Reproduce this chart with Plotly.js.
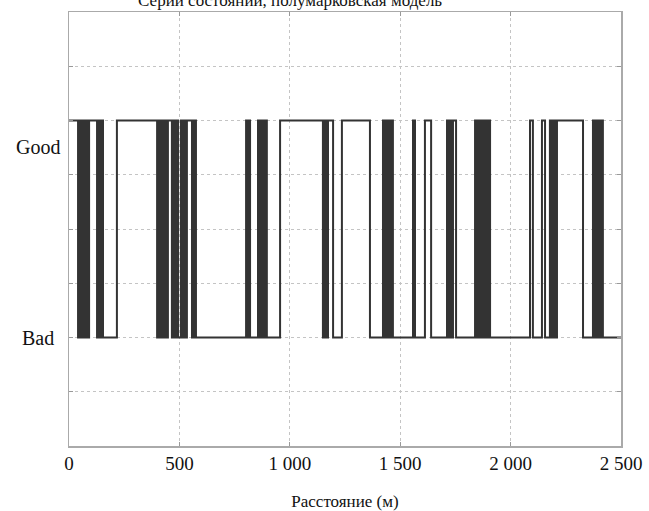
<!DOCTYPE html>
<html>
<head>
<meta charset="utf-8">
<script src="https://cdn.plot.ly/plotly-3.0.1.min.js"></script>
<style>html,body{margin:0;padding:0;background:#fff;}#chart{width:649px;height:511px;}</style>
</head>
<body>
<div id="chart"></div>
<script>
// Distance (m) at which each state segment starts, and the state (1 = Good, 0 = Bad)
var distance = [
  0,
  41, 47, 53, 59, 65, 72, 78, 84, 88, 91,
  127, 132, 137, 142, 147, 151, 154,
  217,
  399, 405, 411, 417, 423, 429, 435, 441, 445, 448,
  466, 473, 480, 487, 494,
  507, 514, 521, 528, 534,
  557, 561, 566, 571, 575,
  802, 805, 808, 811, 814, 820,
  856, 861, 867, 873, 879, 885, 890, 896,
  956,
  1150, 1155, 1160, 1165, 1169, 1173,
  1196,
  1236,
  1363,
  1422, 1427, 1432, 1436, 1440,
  1449, 1454, 1458, 1463, 1467,
  1558, 1567,
  1612, 1640,
  1712, 1717, 1722, 1727, 1732, 1735, 1739,
  1753,
  1839, 1845, 1851, 1857, 1863, 1867, 1871,
  1880, 1885, 1890, 1895, 1899, 1903, 1907,
  2088, 2101,
  2142, 2156,
  2178, 2184, 2190, 2195, 2200, 2205, 2210,
  2328,
  2373, 2379, 2385, 2391, 2397, 2403, 2409, 2418,
  2500
];
var state = [
  1,
  0, 1, 0, 1, 0, 1, 0, 1, 0, 1,
  0, 1, 0, 1, 0, 1, 0,
  1,
  0, 1, 0, 1, 0, 1, 0, 1, 0, 1,
  0, 1, 0, 1, 0,
  1, 0, 1, 0, 1,
  0, 1, 0, 1, 0,
  1, 0, 1, 0, 1, 0,
  1, 0, 1, 0, 1, 0, 1, 0,
  1,
  0, 1, 0, 1, 0, 1,
  0,
  1,
  0,
  1, 0, 1, 0, 1,
  0, 1, 0, 1, 0,
  1, 0,
  1, 0,
  1, 0, 1, 0, 1, 0, 1,
  0,
  1, 0, 1, 0, 1, 0, 1,
  0, 1, 0, 1, 0, 1, 0,
  1, 0,
  1, 0,
  1, 0, 1, 0, 1, 0, 1,
  0,
  1, 0, 1, 0, 1, 0, 1, 0,
  0
];
var xTickVals = [0, 500, 1000, 1500, 2000, 2500];
var xTickText = ['0', '500', '1 000', '1 500', '2 000', '2 500'];
var stateNames = ['Bad', 'Good'];
var chartTitle = 'Серии состояний, полумарковская модель';
var xTitle = 'Расстояние (м)';

var serif = 'Liberation Serif, Times New Roman, serif';

var trace = {
  x: distance,
  y: state,
  type: 'scatter',
  mode: 'lines',
  line: {shape: 'hv', color: '#333333', width: 2},
  hoverinfo: 'x+y'
};

var layout = {
  width: 649,
  height: 511,
  margin: {l: 69, r: 28, t: 12, b: 65},
  paper_bgcolor: '#ffffff',
  plot_bgcolor: '#ffffff',
  showlegend: false,
  title: {
    text: chartTitle,
    font: {family: serif, size: 17, color: '#111'},
    x: 0.447, xref: 'container', xanchor: 'center',
    y: 1.0, yref: 'container', yanchor: 'middle'
  },
  xaxis: {
    range: [0, 2500],
    tickvals: xTickVals,
    ticktext: xTickText,
    tickfont: {family: serif, size: 19, color: '#111'},
    ticks: 'inside', ticklen: 4, tickcolor: '#999',
    showgrid: true, gridcolor: '#c4c4c4', griddash: 'dot', gridwidth: 1,
    showline: true, linecolor: '#aaa', linewidth: 1.5, mirror: 'ticks',
    zeroline: false,
    title: {text: xTitle, font: {family: serif, size: 17, color: '#111'}, standoff: 22}
  },
  yaxis: {
    range: [-0.5, 1.5],
    dtick: 0.25, tick0: 0,
    showticklabels: false,
    ticks: 'inside', ticklen: 4, tickcolor: '#999',
    showgrid: true, gridcolor: '#c4c4c4', griddash: 'dot', gridwidth: 1,
    showline: true, linecolor: '#aaa', linewidth: 1.5, mirror: 'ticks',
    zeroline: false
  },
  annotations: [
    {text: stateNames[1], xref: 'paper', yref: 'y', x: -0.056, y: 0.876,
     xanchor: 'center', yanchor: 'middle', showarrow: false,
     font: {family: serif, size: 20, color: '#111'}},
    {text: stateNames[0], xref: 'paper', yref: 'y', x: -0.056, y: 0.0,
     xanchor: 'center', yanchor: 'middle', showarrow: false,
     font: {family: serif, size: 20, color: '#111'}}
  ]
};

Plotly.newPlot('chart', [trace], layout, {displayModeBar: false, staticPlot: true});
</script>
</body>
</html>
